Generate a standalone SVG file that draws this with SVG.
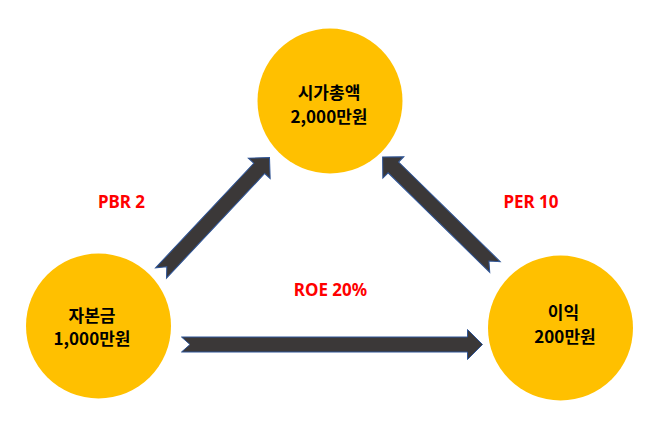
<svg xmlns="http://www.w3.org/2000/svg" width="659" height="437" viewBox="0 0 659 437">
<style>
.node{fill:#FFC000}
.nt{font-family:"Noto Sans CJK KR","Noto Sans",sans-serif;font-weight:bold;font-size:17px;fill:#000;text-anchor:middle}
.lbl{font-family:"Noto Sans","Liberation Sans",sans-serif;font-weight:bold;font-size:17px;fill:#FF0000;text-anchor:middle}
.arr{fill:#3B3838;stroke:#2F5597;stroke-width:1;stroke-linejoin:miter}
</style>
<rect width="659" height="437" fill="#fff"/>
<g id="connectors">
<path class="arr" transform="translate(181.5,344.5)" d="M0,-7.5 L286,-7.5 L286,-15 L301,0 L286,15 L286,7.5 L0,7.5 L8.5,0 Z"/>
<path class="arr" transform="translate(161,273) rotate(-46.8)" d="M0,-7.5 L143.5,-7.5 L143.5,-15 L158.5,0 L143.5,15 L143.5,7.5 L0,7.5 L8.5,0 Z"/>
<path class="arr" transform="translate(495,267) rotate(224.4)" d="M0,-7.5 L142.3,-7.5 L142.3,-15 L157.3,0 L142.3,15 L142.3,7.5 L0,7.5 L8.5,0 Z"/>
<text class="lbl" x="121.5" y="208">PBR 2</text>
<text class="lbl" x="531" y="208">PER 10</text>
<text class="lbl" x="330.5" y="295.5">ROE 20%</text>
</g>
<g id="market-cap">
<circle class="node" cx="330" cy="101" r="72.5"/>
<text class="nt" x="329" y="99">시가총액</text>
<text class="nt" x="329" y="122.5">2,000만원</text>
</g>
<g id="capital">
<circle class="node" cx="98.5" cy="326" r="72.5"/>
<text class="nt" x="92" y="321.5">자본금</text>
<text class="nt" x="92" y="345">1,000만원</text>
</g>
<g id="profit">
<circle class="node" cx="560.5" cy="328" r="72.5"/>
<text class="nt" x="563.5" y="319">이익</text>
<text class="nt" x="565" y="343">200만원</text>
</g>
</svg>
